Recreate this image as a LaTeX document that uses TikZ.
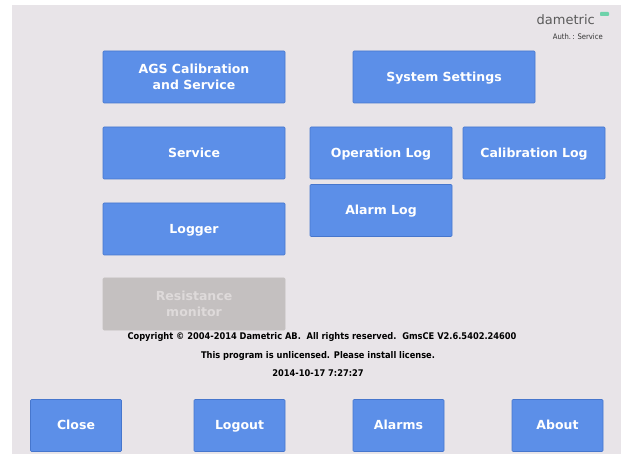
\documentclass[tikz,border=0pt]{standalone}
\usepackage{fontspec}
\setmainfont{DejaVu Sans}
\newfontfamily\condfont{DejaVu Sans Condensed}
\definecolor{bgc}{RGB}{232,228,232}
\definecolor{btnc}{RGB}{92,143,232}
\definecolor{btnedge}{RGB}{70,118,205}
\definecolor{disc}{RGB}{196,192,192}
\definecolor{distext}{RGB}{222,218,218}
\definecolor{logoc}{RGB}{90,90,90}
\definecolor{logomark}{RGB}{110,210,170}
\tikzset{
  btn/.style={fill=btnc, draw=btnedge, line width=0.6pt, rounded corners=1pt,
    text=white, font=\bfseries\fontsize{12.5}{16}\selectfont, align=center,
    inner sep=0pt, minimum height=52pt},
  oneline/.style={text height=9.2pt, text depth=0.8pt},
  widemulti/.style={btn, minimum width=182pt},
  wide/.style={btn, oneline, minimum width=182pt},
  mid/.style={btn, oneline, minimum width=142pt},
  small/.style={btn, oneline, minimum width=91pt},
  disabled/.style={widemulti, fill=disc, draw=disc, text=distext},
  info/.style={font=\condfont\bfseries\fontsize{9.2}{10}\selectfont, text=black, inner sep=0pt}
}
\begin{document}
\begin{tikzpicture}[x=1pt,y=-1pt]
\useasboundingbox (0,0) rectangle (621,454);
\fill[white] (0,0) rectangle (621,454);
\fill[bgc] (12,5) rectangle (621,454);
% logo
\node[font=\fontsize{13}{15}\selectfont, text=logoc, anchor=base east, inner sep=0pt] (logo) at (595,25) {dametric};
\fill[logomark, rounded corners=0.8pt] (600,12) rectangle (609,16);
\node[font=\condfont\fontsize{7.6}{9}\selectfont, text=black!80, anchor=base east, inner sep=0pt] (auth) at (603,40) {Auth.\,: Service};
% buttons
\node[widemulti] (ags) at (194,77) {AGS Calibration\\and Service};
\node[wide] (sys) at (444,77) {System Settings};
\node[wide] (service) at (194,153) {Service};
\node[mid] (oplog) at (381,153) {Operation Log};
\node[mid] (callog) at (534,153) {Calibration Log};
\node[mid] (alarmlog) at (381,210.5) {Alarm Log};
\node[wide] (logger) at (194,229) {Logger};
\node[disabled] (resist) at (194,304) {Resistance\\monitor};
% info texts
\node[info] (copy) at (322,337) {Copyright \textcopyright{} 2004-2014 Dametric AB.\ \ All rights reserved.\ \ GmsCE V2.6.5402.24600};
\node[info] (lic) at (318,355.5) {This program is unlicensed. Please install license.};
\node[info] (date) at (318,373.5) {2014-10-17 7:27:27};
% bottom buttons
\node[small] (close) at (76,425.5) {Close};
\node[small] (logout) at (239.5,425.5) {Logout};
\node[small] (alarms) at (398.5,425.5) {Alarms};
\node[small] (about) at (557.5,425.5) {About};
\end{tikzpicture}
\end{document}
